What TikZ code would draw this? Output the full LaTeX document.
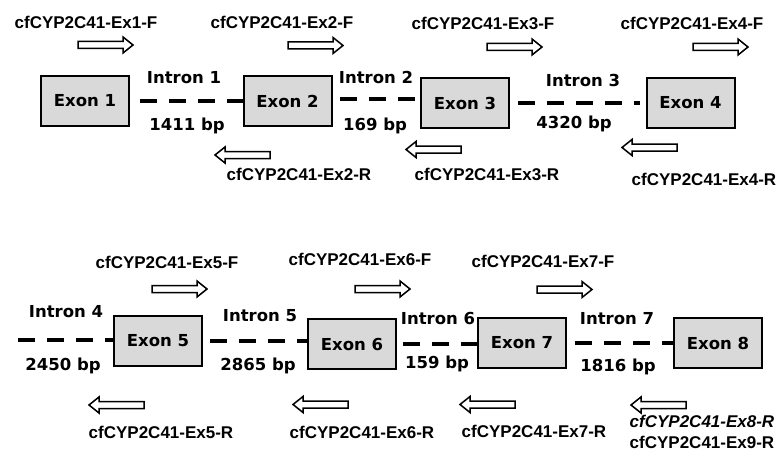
\documentclass[tikz,border=0pt]{standalone}
\usepackage{fontspec}
\setmainfont{Liberation Sans}
\newfontfamily\exonfont{DejaVu Sans}
\definecolor{exongray}{RGB}{217,217,217}
\begin{document}
\begin{tikzpicture}[x=1pt,y=-1pt,
  exon/.style={draw, line width=2pt, fill=exongray, minimum width=88pt, minimum height=50pt,
    inner sep=0pt, font=\exonfont\bfseries\fontsize{16.5}{20}\selectfont},
  lbl/.style={anchor=base, inner sep=0pt, font=\exonfont\bfseries\fontsize{16.5}{20}\selectfont},
  primer/.style={anchor=base, inner sep=0pt, font=\bfseries\fontsize{17}{20}\selectfont},
  primeritalic/.style={primer, font=\bfseries\itshape\fontsize{17}{20}\selectfont},
  intron/.style={line width=4pt, dash pattern=on 17pt off 12pt},
  primerarrow/.style={draw, line width=1.5pt, fill=white, line join=miter},
  fwd/.pic={\draw[primerarrow] (0,-3.5) -- (45,-3.5) -- (45,-8) -- (55,0) -- (45,8) -- (45,3.5) -- (0,3.5) -- cycle;},
  rev/.pic={\draw[primerarrow] (55,-3.5) -- (10,-3.5) -- (10,-8) -- (0,0) -- (10,8) -- (10,3.5) -- (55,3.5) -- cycle;}
]
\useasboundingbox (0,0) rectangle (779,452);

% ---------- top row ----------
\node[exon] (e1) at (85,101) {Exon 1};
\node[exon] (e2) at (287.5,101) {Exon 2};
\node[exon] (e3) at (465,103) {Exon 3};
\node[exon] (e4) at (690.5,103) {Exon 4};

\coordinate (i1s) at ([xshift=10pt]e1.east);
\coordinate (i2s) at ([shift={(7pt,2pt)}]e2.east);
\coordinate (i3s) at ([xshift=8pt]e3.east);
\coordinate (i3e) at ([xshift=-6pt]e4.west);
\draw[intron] (i1s) -- (i1s -| e2.west);
\draw[intron] (i2s) -- (i2s -| e3.west);
\draw[intron] (i3s) -- (i3e);

\node[lbl] (l1) at (184,84) {Intron 1};
\node[lbl] (b1) at (187,130) {1411 bp};
\node[lbl] (l2) at (376,84) {Intron 2};
\node[lbl] (b2) at (375,130) {169 bp};
\node[lbl] (l3) at (583,87) {Intron 3};
\node[lbl] (b3) at (574,128) {4320 bp};

\node[primer] (p1f) at (86,29) {cfCYP2C41-Ex1-F};
\node[primer] (p2f) at (282,29) {cfCYP2C41-Ex2-F};
\node[primer] (p3f) at (483,30) {cfCYP2C41-Ex3-F};
\node[primer] (p4f) at (692,30) {cfCYP2C41-Ex4-F};
\node[primer] (p2r) at (299,180) {cfCYP2C41-Ex2-R};
\node[primer] (p3r) at (487,180) {cfCYP2C41-Ex3-R};
\node[primer] (p4r) at (704,185) {cfCYP2C41-Ex4-R};

\pic at (78,45) {fwd};
\pic at (288,45.5) {fwd};
\pic at (487,47) {fwd};
\pic at (693,47) {fwd};
\pic at (215,155) {rev};
\pic at (406,149.5) {rev};
\pic at (622,147.5) {rev};

% ---------- bottom row ----------
\node[exon] (e5) at (158,341) {Exon 5};
\node[exon] (e6) at (352,344) {Exon 6};
\node[exon] (e7) at (522,343) {Exon 7};
\node[exon] (e8) at (718,343) {Exon 8};

\coordinate (i4s) at (18,340);
\coordinate (i5s) at ([xshift=7pt]e5.east);
\coordinate (i6s) at ([xshift=6pt]e6.east);
\coordinate (i7s) at ([xshift=8pt]e7.east);
\draw[intron] (i4s) -- (i4s -| e5.west);
\draw[intron] (i5s) -- (i5s -| e6.west);
\draw[intron] (i6s) -- (i6s -| e7.west);
\draw[intron] (i7s) -- (i7s -| e8.west);

\node[lbl] (l4) at (66,317) {Intron 4};
\node[lbl] (b4) at (63,370) {2450 bp};
\node[lbl] (l5) at (260,321) {Intron 5};
\node[lbl] (b5) at (258,370) {2865 bp};
\node[lbl] (l6) at (438,324) {Intron 6};
\node[lbl] (b6) at (437,368) {159 bp};
\node[lbl] (l7) at (617,324) {Intron 7};
\node[lbl] (b7) at (618,371) {1816 bp};

\node[primer] (p5f) at (167,268) {cfCYP2C41-Ex5-F};
\node[primer] (p6f) at (360,265) {cfCYP2C41-Ex6-F};
\node[primer] (p7f) at (543,267) {cfCYP2C41-Ex7-F};
\node[primer] (p5r) at (161,438) {cfCYP2C41-Ex5-R};
\node[primer] (p6r) at (362,438) {cfCYP2C41-Ex6-R};
\node[primer] (p7r) at (534,437) {cfCYP2C41-Ex7-R};
\node[primeritalic] (p8r) at (702,427) {cfCYP2C41-Ex8-R};
\node[primer] (p9r) at (702,448) {cfCYP2C41-Ex9-R};

\pic at (152,289) {fwd};
\pic at (355,289) {fwd};
\pic at (537,289.5) {fwd};
\pic at (89,405) {rev};
\pic at (293,404.5) {rev};
\pic at (460,404.5) {rev};
\pic at (631,405) {rev};
\end{tikzpicture}
\end{document}
